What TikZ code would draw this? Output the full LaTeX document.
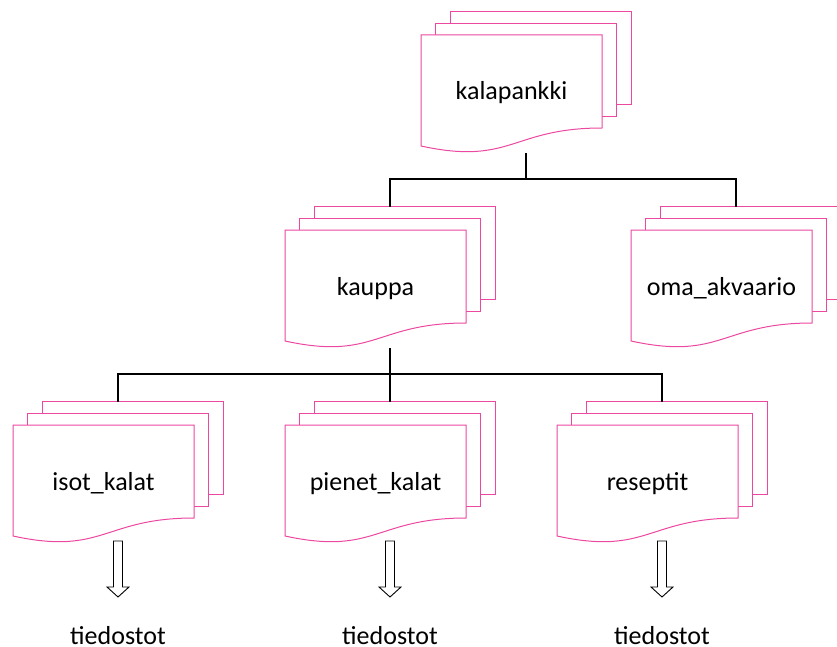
\documentclass[tikz,border=0pt]{standalone}
\usepackage{fontspec}
\setmainfont{Carlito}
\definecolor{docpink}{RGB}{236,72,160}
\tikzset{
  sheet/.style={draw=docpink, line width=1pt, fill=white},
  link/.style={draw=black, line width=1.2pt},
  hollow/.style={draw=black, line width=0.9pt, fill=white},
  doclabel/.style={font=\fontsize{26}{30}\selectfont, anchor=base, inner sep=0pt},
}
% three stacked sheets: name, left, top, text
\newcommand{\docstack}[4]{%
  \foreach \d in {2,1}
    \draw[sheet] (#2+14.5*\d,#3-11.7*\d) rectangle ++(181,93);
  \draw[sheet] (#2,#3) -- ++(181,0) -- ++(0,93) .. controls (#2+90.5,#3+93) and (#2+90.5,#3+130.7) .. (#2,#3+111) -- cycle;
  \node[doclabel] (#1) at (#2+90.5,#3+65) {#4};
  \coordinate (#1-top) at (#2+105,#3-23.4);
  \coordinate (#1-bot) at (#2+105,#3+118);
}
\begin{document}
\begin{tikzpicture}[x=1pt,y=-1pt]
        \useasboundingbox (0,0) rectangle (837,647);
        \docstack{kalapankki}{421}{35}{kalapankki}
        \docstack{kauppa}{285}{230}{kauppa}
        \docstack{oma}{631}{230}{oma\_akvaario}
        \docstack{isot}{13}{425}{isot\_kalat}
        \docstack{pienet}{285}{425}{pienet\_kalat}
        \docstack{reseptit}{557}{425}{reseptit}
        % tree
        \draw[link] (kalapankki-bot) -- (kalapankki-bot |- 0,179);
        \draw[link] (kauppa-top) |- (oma-top |- 0,179) -- (oma-top);
        \draw[link] (kauppa-bot) -- (pienet-top);
        \draw[link] (isot-top) |- (reseptit-top |- 0,374) -- (reseptit-top);
        % files
        \foreach \n in {isot,pienet,reseptit}{
          \node[doclabel] (\n-files) at (\n-bot |- 0,644) {tiedostot};
          \draw[hollow] (\n-bot) ++(-4.5,-2) -- ++(9,0) -- ++(0,46) -- ++(6.5,0) -- ++(-11,10) -- ++(-11,-10) -- ++(6.5,0) -- cycle;
        }
    \end{tikzpicture}
\end{document}
